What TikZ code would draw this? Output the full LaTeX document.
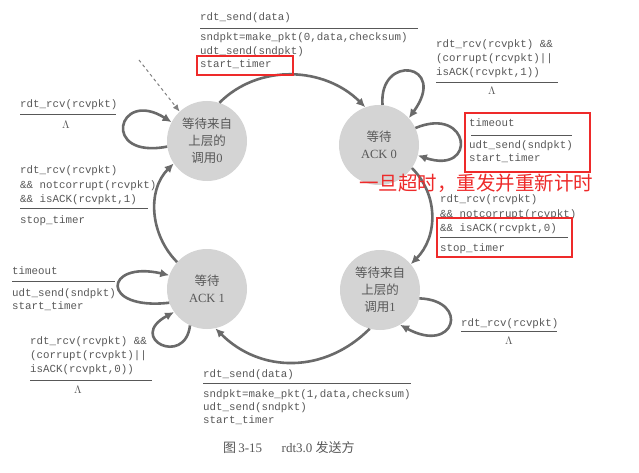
\documentclass[tikz,border=0pt]{standalone}
\usepackage{fontspec}
\setmainfont{Liberation Serif}
\newfontfamily\cjk{Noto Sans CJK SC}
\newfontfamily\codefont{Liberation Mono}
\usetikzlibrary{arrows.meta}
\definecolor{ln}{HTML}{6A6A6A}
\definecolor{tx}{HTML}{585858}
\definecolor{st}{HTML}{D4D4D4}
\definecolor{rd}{HTML}{EE2A2A}
\begin{document}
\begin{tikzpicture}[x=1pt,y=-1pt,
 state/.style={circle, fill=st, minimum size=80pt, inner sep=0pt, text=tx, align=center, font=\cjk\fontsize{12.5}{17}\selectfont},
 arr/.style={draw=ln, line width=2.6pt, -{Latex[length=9pt,width=8.5pt]}},
 code/.style={anchor=base west, inner sep=0pt, text=tx, font=\codefont\fontsize{10.8}{13}\selectfont},
 rulel/.style={draw=tx, line width=0.8pt},
 lam/.style={anchor=center, inner sep=0pt, text=tx, font=\fontsize{11}{13}\selectfont},
 redbox/.style={draw=rd, line width=1.8pt},
]
\useasboundingbox (0,0) rectangle (639,473);
\fill[white] (0,0) rectangle (639,473);

% states
\node[state] (c0) at (207,141) {等待来自\\上层的\\调用{\rmfamily 0}};
\node[state] (a0) at (379,145) {等待\\{\rmfamily ACK 0}};
\node[state] (a1) at (207,289) {等待\\{\rmfamily ACK 1}};
\node[state] (c1) at (380,290) {等待来自\\上层的\\调用{\rmfamily 1}};

% initial dashed arrow
\coordinate (ds) at (139,60);
\draw[draw=gray, line width=1pt, dashed, -{Latex[length=7pt,width=6pt]}] (ds) -- (c0.133);

% main cycle
\draw[arr] (c0.72) .. controls +(40,-40) and +(-40,-40) .. (a0.110);
\draw[arr] (a0.-35) .. controls +(27,27) and +(27,-27) .. (c1.40);
\draw[arr] (c1.-105) .. controls +(-45,45) and +(45,45) .. (a1.-78);
\draw[arr] (a1.138) .. controls +(-27,-27) and +(-27,27) .. (c0.214);

% self loops
\draw[arr] (c0.188) .. controls +(-67,13) and +(-54,-34) .. (c0.152);
\draw[arr] (a0.85) .. controls +(-4,-52) and +(40,-55) .. (a0.42);
\draw[arr] (a0.25) .. controls +(55,-23) and +(60,20) .. (a0.-15);
\draw[arr] (c1.-12) .. controls +(51,2) and +(55,30) .. (c1.-60);
\draw[arr] (a1.200) .. controls +(-70,8) and +(-65,-15) .. (a1.160);
\draw[arr] (a1.245) .. controls +(-5,42) and +(-48,26) .. (a1.215);

% top label
\node[code] (t1) at (200,21) {rdt\_send(data)};
\draw[rulel] (200,28) -- (418,28);
\node[code] (t2) at (200,41) {sndpkt=make\_pkt(0,data,checksum)};
\node[code] (t3) at (200,55) {udt\_send(sndpkt)};
\node[code] (t4) at (200,68) {start\_timer};
\draw[redbox] (197,56) rectangle (293,75);

% left upper
\node[code] (l1) at (20,108) {rdt\_rcv(rcvpkt)};
\draw[rulel] (20,114) -- (116,114);
\node[lam] (l2) at (66,125) {$\Lambda$};

% left middle
\node[code] (m1) at (20,174) {rdt\_rcv(rcvpkt)};
\node[code] (m2) at (20,188) {\&\& notcorrupt(rcvpkt)};
\node[code] (m3) at (20,202) {\&\& isACK(rcvpkt,1)};
\draw[rulel] (20,208) -- (148,208);
\node[code] (m4) at (20,223) {stop\_timer};

% left lower
\node[code] (n1) at (12,274) {timeout};
\draw[rulel] (12,281) -- (115,281);
\node[code] (n2) at (12,296) {udt\_send(sndpkt)};
\node[code] (n3) at (12,309) {start\_timer};

% lower left
\node[code] (p1) at (30,344) {rdt\_rcv(rcvpkt) \&\&};
\node[code] (p2) at (30,358) {(corrupt(rcvpkt)||};
\node[code] (p3) at (30,372) {isACK(rcvpkt,0))};
\draw[rulel] (30,380) -- (152,380);
\node[lam] (p4) at (78,390) {$\Lambda$};

% bottom
\node[code] (b1) at (203,377) {rdt\_send(data)};
\draw[rulel] (203,383) -- (411,383);
\node[code] (b2) at (203,397) {sndpkt=make\_pkt(1,data,checksum)};
\node[code] (b3) at (203,410) {udt\_send(sndpkt)};
\node[code] (b4) at (203,423) {start\_timer};

% caption
\node[anchor=base west, inner sep=0pt, text=tx, font=\fontsize{13}{15}\selectfont] (cap) at (223,452) {{\cjk 图}\,3-15\hspace{1.5em}rdt3.0 {\cjk 发送方}};

% right top
\node[code] (r1) at (436,48) {rdt\_rcv(rcvpkt) \&\&};
\node[code] (r2) at (436,62) {(corrupt(rcvpkt)||};
\node[code] (r3) at (436,76) {isACK(rcvpkt,1))};
\draw[rulel] (436,82) -- (558,82);
\node[lam] (r4) at (492,91) {$\Lambda$};

% right box
\node[code] (s1) at (469,127) {timeout};
\draw[rulel] (471,135) -- (572,135);
\node[code] (s2) at (469,149) {udt\_send(sndpkt)};
\node[code] (s3) at (469,162) {start\_timer};
\draw[redbox] (465,113) rectangle (590,172);

% red note
\node[anchor=base west, inner sep=0pt, text=rd, font=\cjk\fontsize{19.5}{22}\selectfont] (note) at (359,190) {一旦超时，重发并重新计时};

% right lower
\node[code] (u1) at (440,202) {rdt\_rcv(rcvpkt)};
\node[code] (u2) at (440,217) {\&\& notcorrupt(rcvpkt)};
\node[code] (u3) at (440,231) {\&\& isACK(rcvpkt,0)};
\draw[rulel] (440,237) -- (568,237);
\node[code] (u4) at (440,251) {stop\_timer};
\draw[redbox] (437,218) rectangle (572,257);

% bottom right
\node[code] (v1) at (461,326) {rdt\_rcv(rcvpkt)};
\draw[rulel] (461,331) -- (557,331);
\node[lam] (v2) at (509,341) {$\Lambda$};
\end{tikzpicture}
\end{document}
